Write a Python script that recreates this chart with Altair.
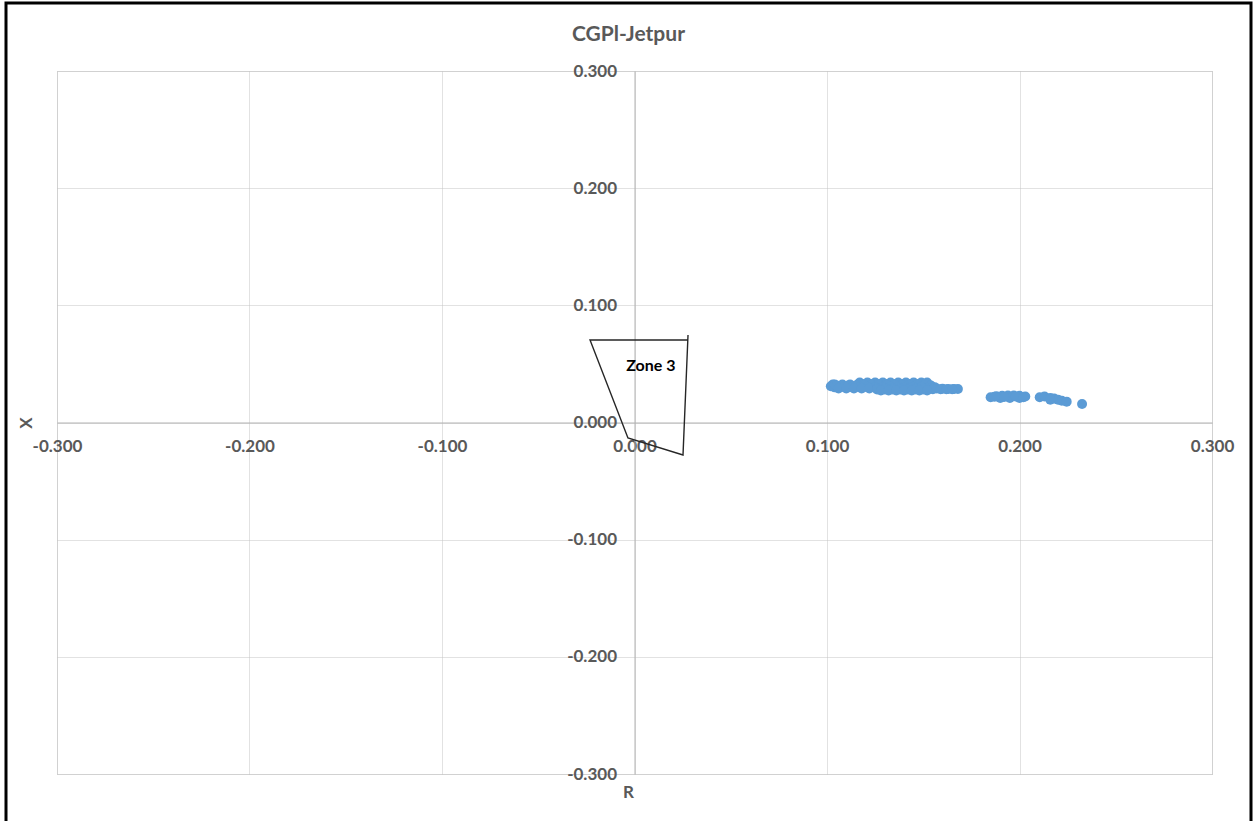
import altair as alt
import pandas as pd

# ---- data ----
r_vals = [
    0.102, 0.103, 0.104, 0.104, 0.108, 0.112, 0.116,
    0.117, 0.121, 0.125, 0.129, 0.133, 0.137, 0.141, 0.145, 0.149, 0.152,
    0.119, 0.123, 0.127, 0.131, 0.135, 0.139, 0.143, 0.147, 0.151,
    0.105, 0.108, 0.111, 0.115, 0.119, 0.123, 0.127, 0.131, 0.135, 0.139, 0.143, 0.147, 0.151, 0.154,
    0.107, 0.113, 0.117, 0.121, 0.125, 0.129, 0.133, 0.137, 0.141, 0.145, 0.149, 0.153, 0.156,
    0.106, 0.110, 0.114, 0.118, 0.122, 0.126, 0.130, 0.134, 0.138, 0.142, 0.146, 0.150, 0.154, 0.157, 0.160, 0.163, 0.166, 0.168,
    0.126, 0.130, 0.134, 0.138, 0.142, 0.146, 0.150, 0.155, 0.159, 0.162, 0.165,
    0.128, 0.132, 0.136, 0.140, 0.144, 0.148, 0.152,
    0.185, 0.188, 0.191, 0.194, 0.197, 0.200, 0.203, 0.190, 0.195, 0.200,
    0.187, 0.192, 0.198, 0.202,
    0.2105, 0.213, 0.216, 0.218, 0.220, 0.222, 0.2245, 0.216,
    0.2325,
]
x_vals = [
    0.031, 0.0325, 0.030, 0.0325, 0.0325, 0.0325, 0.0325,
    0.0341, 0.0341, 0.0341, 0.0341, 0.0341, 0.0341, 0.0341, 0.0341, 0.0341, 0.0341,
    0.0328, 0.0328, 0.0328, 0.0328, 0.0328, 0.0328, 0.0328, 0.0328, 0.0328,
    0.0315, 0.0315, 0.0315, 0.0315, 0.0315, 0.0315, 0.0315, 0.0315, 0.0315, 0.0315, 0.0315, 0.0315, 0.0315, 0.0315,
    0.0302, 0.0302, 0.0302, 0.0302, 0.0302, 0.0302, 0.0302, 0.0302, 0.0302, 0.0302, 0.0302, 0.0302, 0.0300,
    0.029, 0.029, 0.029, 0.029, 0.029, 0.029, 0.029, 0.029, 0.029, 0.029, 0.029, 0.029, 0.029, 0.029, 0.0288, 0.0286, 0.0286, 0.0286,
    0.0282, 0.0282, 0.0282, 0.0282, 0.0282, 0.0282, 0.0282, 0.0284, 0.0284, 0.0284, 0.0284,
    0.0273, 0.0273, 0.0273, 0.0273, 0.0273, 0.0273, 0.0273,
    0.0215, 0.0225, 0.0228, 0.0230, 0.0230, 0.0228, 0.0222, 0.021, 0.021, 0.021,
    0.0220, 0.0218, 0.0222, 0.0215,
    0.0215, 0.0222, 0.021, 0.0205, 0.0195, 0.0185, 0.0178, 0.0195,
    0.0158,
]

zone_r = [0.0278, 0.0252, -0.0034, -0.0231, 0.0278]
zone_x = [0.0747, -0.0277, -0.0132, 0.0704, 0.0704]
zone_label_r = [0.0085]
zone_label_x = [0.048]
zone_label_text = ["Zone 3"]

tick_values = [-0.3, -0.2, -0.1, 0.0, 0.1, 0.2, 0.3]

FONT = "Lato"
GRAY = "#595959"

pts = pd.DataFrame({"R": r_vals, "X": x_vals})
zone = pd.DataFrame({"R": zone_r, "X": zone_x, "i": list(range(len(zone_r)))})
zlab = pd.DataFrame({"R": zone_label_r, "X": zone_label_x, "t": zone_label_text})

W, H = 1155, 703
label_expr = "replace(format(datum.value, '.3f'), '\u2212', '-')"

xscale = alt.Scale(domain=[-0.3, 0.3], nice=False, zero=False)
yscale = alt.Scale(domain=[-0.3, 0.3], nice=False, zero=False)

x_axis = alt.Axis(
    values=tick_values, offset=-H / 2, grid=True, gridDash=[1, 1], gridColor="#c4c4c4",
    domainColor="#b3b3b3", domainWidth=1, ticks=False, labelPadding=16,
    labelFont=FONT, labelFontSize=17, labelFontWeight="bold", labelColor=GRAY,
    labelFlush=False, labelOverlap=False, labelExpr=label_expr,
    title="R", titleFont=FONT, titleFontSize=17, titleFontWeight="bold", titleColor=GRAY,
    titleX=571, titleY=370, titleBaseline="middle", titleAlign="center",
)
y_axis = alt.Axis(
    values=tick_values, offset=-W / 2, grid=True, gridDash=[1, 1], gridColor="#c4c4c4",
    domainColor="#b3b3b3", domainWidth=1, ticks=False, labelPadding=18,
    labelFont=FONT, labelFontSize=17, labelFontWeight="bold", labelColor=GRAY,
    labelFlush=False, labelOverlap=False, labelExpr=label_expr,
    title="X", titleFont=FONT, titleFontSize=17, titleFontWeight="bold", titleColor=GRAY,
    titleX=-608, titleY=351.5, titleAngle=270, titleBaseline="middle", titleAlign="center",
)

border = alt.Chart(pd.DataFrame({"d": [0]})).mark_rect(
    fill=None, stroke="black", strokeWidth=3
).encode(
    x=alt.value(-51), x2=alt.value(1194), y=alt.value(-68), y2=alt.value(770)
)

scatter = alt.Chart(pts).mark_circle(size=100, color="#5B9BD5", opacity=1).encode(
    x=alt.X("R:Q", scale=xscale, axis=x_axis),
    y=alt.Y("X:Q", scale=yscale, axis=y_axis),
)

zone_line = alt.Chart(zone).mark_line(color="#262626", strokeWidth=1.4).encode(
    x=alt.X("R:Q", scale=xscale),
    y=alt.Y("X:Q", scale=yscale),
    order="i:Q",
)

zone_text = alt.Chart(zlab).mark_text(
    font=FONT, fontSize=16, fontWeight="bold", color="black"
).encode(
    x=alt.X("R:Q", scale=xscale),
    y=alt.Y("X:Q", scale=yscale),
    text="t:N",
)

chart = alt.layer(border, scatter, zone_line, zone_text).properties(
    width=W, height=H,
    autosize="none",
    padding={"left": 57, "top": 71, "right": 43, "bottom": 47},
    title=alt.TitleParams(
        "CGPl-Jetpur", font=FONT, fontSize=21, fontWeight="bold", color=GRAY,
        anchor="middle", frame="group", offset=0, baseline="bottom", dx=-6, dy=64,
    ),
).configure_view(stroke=None).configure(background="white")

chart.save("out.html", embed_options={"renderer": "svg", "actions": False})
